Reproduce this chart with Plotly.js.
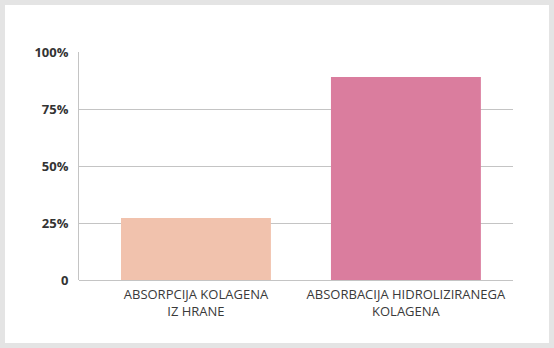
<!DOCTYPE html>
<html><head><meta charset="utf-8">
<script src="https://cdn.plot.ly/plotly-3.0.1.min.js"></script>
<style>
html,body{margin:0;padding:0;background:#e4e4e4;width:554px;height:348px;overflow:hidden;}
#chart{position:absolute;left:5px;top:5px;width:544px;height:338px;background:#fff;}
</style></head><body>
<div id="chart"></div>
<script>
const categories = ["ABSORPCIJA KOLAGENA<br>IZ HRANE", "ABSORBACIJA HIDROLIZIRANEGA<br>KOLAGENA"];
const values = [27.2, 89.0];
const barColors = ["#f1c2ad", "#da7d9e"];
const tickVals = [0, 25, 50, 75, 100];
const tickText = ["0", "25%", "50%", "75%", "100%"];

Plotly.newPlot("chart", [{
  type: "bar",
  x: [0, 1],
  y: values,
  width: 0.714,
  marker: {color: barColors, line: {width: 0}},
  hoverinfo: "none"
}], {
  width: 544, height: 338,
  margin: {l: 74, r: 36, t: 47, b: 63},
  paper_bgcolor: "#ffffff",
  plot_bgcolor: "#ffffff",
  showlegend: false,
  font: {family: "Open Sans", color: "#333"},
  xaxis: {
    range: [-0.557, 1.51],
    tickvals: [0, 1],
    ticktext: categories,
    showgrid: false, zeroline: false, showline: false,
    tickfont: {family: "Open Sans", size: 13, color: "#3a3a3a"},
    ticks: "", ticklabelstandoff: 5
  },
  yaxis: {
    range: [0, 100],
    tickvals: tickVals,
    ticktext: tickText,
    showgrid: true, gridcolor: "#c4c4c4", gridwidth: 1,
    zeroline: true, zerolinecolor: "#c4c4c4", zerolinewidth: 1,
    showline: true, linecolor: "#c4c4c4", linewidth: 1,
    tickfont: {family: "Open Sans", size: 13, color: "#333", weight: "bold"},
    ticks: "", ticklabelstandoff: 7
  }
}, {staticPlot: true, displayModeBar: false});
</script></body></html>
